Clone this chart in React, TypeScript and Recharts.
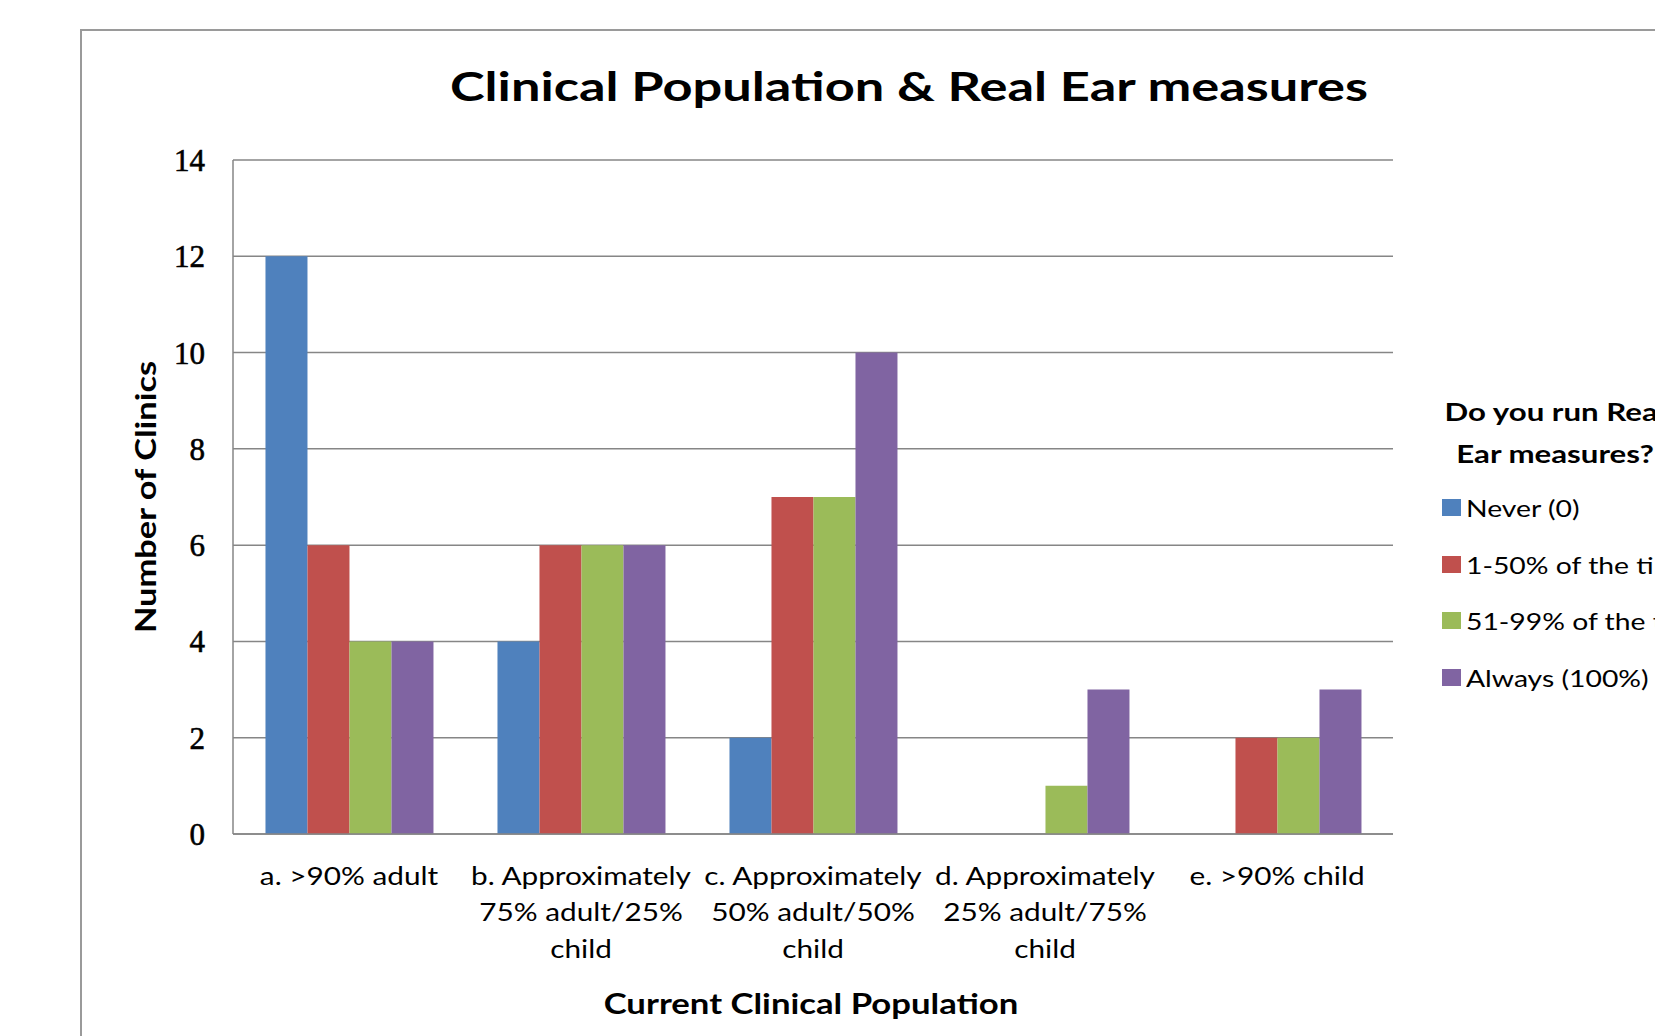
import { BarChart, Bar, XAxis, YAxis, CartesianGrid, Legend } from "recharts";

const CATEGORIES = [
  "a. >90% adult",
  "b. Approximately\n75% adult/25%\nchild",
  "c. Approximately\n50% adult/50%\nchild",
  "d. Approximately\n25% adult/75%\nchild",
  "e. >90% child",
];
const NEVER = [12, 4, 2, 0, 0];
const SOMETIMES = [6, 6, 7, 0, 2];
const MOSTLY = [4, 6, 7, 1, 2];
const ALWAYS = [4, 6, 10, 3, 3];
const Y_TICKS = [0, 2, 4, 6, 8, 10, 12, 14];

const SERIES = [
  { key: "never", name: "Never (0)", color: "#4F81BD" },
  { key: "sometimes", name: "1-50% of the time", color: "#C0504D" },
  { key: "mostly", name: "51-99% of the time", color: "#9BBB59" },
  { key: "always", name: "Always (100%)", color: "#8064A2" },
];

const chartData = CATEGORIES.map((category, i) => ({
  category,
  never: NEVER[i],
  sometimes: SOMETIMES[i],
  mostly: MOSTLY[i],
  always: ALWAYS[i],
}));

const SANS = "Lato, 'Open Sans', sans-serif";
const GRID = "#868686";
// The source picture is stretched sideways, so text gets a horizontal scale.
const STRETCH = 1.19;

// Multi-line category labels, the way the spreadsheet wrapped them.
const CategoryTick = ({ x, y, payload }: any) => {
  const lines = String(payload.value).split("\n");
  return (
    <g transform={`translate(${x} ${y}) scale(${STRETCH} 1)`}>
      <text x={0} y={0} textAnchor="middle" fontFamily={SANS} fontSize={25} fill="#000">
        {lines.map((line, i) => (
          <tspan key={i} x={0} dy={i === 0 ? 51 : 36.5}>
            {line}
          </tspan>
        ))}
      </text>
    </g>
  );
};

const LegendBox = ({ payload }: any) => {
  const items = [...(payload ?? [])].sort(
    (a: any, b: any) =>
      SERIES.findIndex((s) => s.name === a.value) - SERIES.findIndex((s) => s.name === b.value),
  );
  return (
    <div style={{ fontFamily: SANS, color: "#000", textAlign: "left" }}>
      <div style={{ width: 226, textAlign: "center", fontWeight: 700, fontSize: 24, lineHeight: "42px" }}>
        {["Do you run Real", "Ear measures?"].map((line) => (
          <div key={line} style={{ whiteSpace: "nowrap", transform: "scaleX(1.3)" }}>
            {line}
          </div>
        ))}
      </div>
      <div style={{ marginTop: 4 }}>
        {items.map((entry: any) => (
          <div key={entry.value} style={{ display: "flex", alignItems: "center", height: 56.7, whiteSpace: "nowrap" }}>
            <span style={{ flex: "none", width: 19, height: 17, background: entry.color, marginRight: 5 }} />
            <span
              style={{ display: "inline-block", fontSize: 24, transform: "scaleX(1.18)", transformOrigin: "left center" }}
            >
              {entry.value}
            </span>
          </div>
        ))}
      </div>
    </div>
  );
};

export default function App() {
  return (
    <div
      style={{
        position: "fixed",
        left: 0,
        top: 0,
        width: 1655,
        height: 1036,
        overflow: "hidden",
        background: "#fff",
      }}
    >
      <div
        style={{
          position: "absolute",
          left: 80,
          top: 29,
          width: 1800,
          height: 1200,
          border: "2px solid #9a9a9a",
        }}
      />
      <div style={{ position: "absolute", left: 0, top: 0 }}>
        <BarChart
          width={1655}
          height={1036}
          data={chartData}
          margin={{ top: 160, right: 262, bottom: 122, left: 0 }}
          barCategoryGap="14%"
          barGap={0}
        >
          <CartesianGrid vertical={false} stroke={GRID} strokeWidth={1.5} />
          <XAxis
            dataKey="category"
            height={80}
            interval={0}
            tickLine={false}
            tickSize={0}
            tickMargin={0}
            axisLine={{ stroke: GRID, strokeWidth: 1.5 }}
            tick={<CategoryTick />}
          />
          <YAxis
            width={233}
            domain={[0, 14]}
            ticks={Y_TICKS}
            interval={0}
            tickLine={false}
            tickSize={26}
            tickMargin={2}
            axisLine={{ stroke: GRID, strokeWidth: 1.5 }}
            tick={{
              fill: "#000",
              stroke: "#000",
              strokeWidth: 0.6,
              fontSize: 31,
              fontFamily: "'Liberation Serif', serif",
            }}
          />
          <Legend
            layout="horizontal"
            verticalAlign="middle"
            align="center"
            content={<LegendBox />}
            wrapperStyle={{ left: 1442, top: 391, width: 320 }}
          />
          {SERIES.map((s) => (
            <Bar key={s.key} dataKey={s.key} name={s.name} fill={s.color} isAnimationActive={false} />
          ))}
        </BarChart>
      </div>
      <svg
        width={1655}
        height={1036}
        style={{ position: "absolute", left: 0, top: 0, pointerEvents: "none" }}
        fontFamily={SANS}
        fontWeight={700}
      >
        <text transform="translate(909 101) scale(1.277 1)" textAnchor="middle" fontSize={41}>
          Clinical Population &amp; Real Ear measures
        </text>
        <text transform="translate(156 497) rotate(-90) scale(1.23 1)" textAnchor="middle" fontSize={28}>
          Number of Clinics
        </text>
        <text transform="translate(811 1014) scale(1.24 1)" textAnchor="middle" fontSize={28}>
          Current Clinical Population
        </text>
      </svg>
    </div>
  );
}
